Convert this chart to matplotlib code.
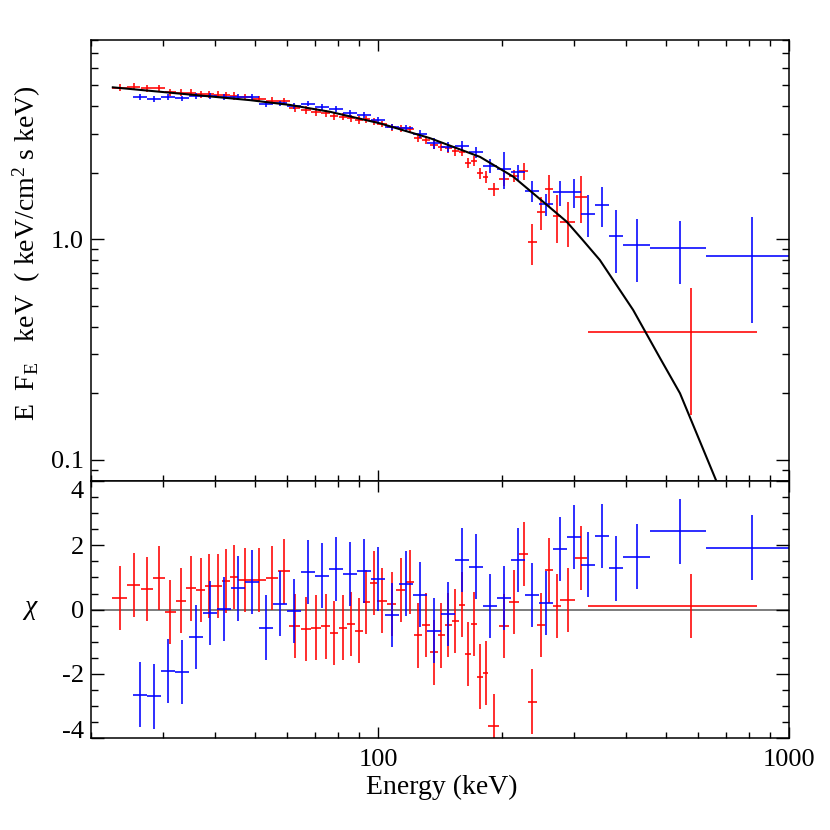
import numpy as np
import matplotlib
matplotlib.use('Agg')
import matplotlib.pyplot as plt
from matplotlib.ticker import LogLocator, NullFormatter, FixedLocator, FixedFormatter, MultipleLocator

plt.rcParams['font.family'] = ['Liberation Serif', 'DejaVu Serif']
plt.rcParams['mathtext.fontset'] = 'custom'
plt.rcParams['mathtext.rm'] = 'Liberation Serif'
plt.rcParams['mathtext.it'] = 'Liberation Serif:italic'

# ---------------- data ----------------
red_E = [23.5, 25.4, 27.4, 29.3, 31.2, 33.1, 35.0, 37.0, 38.8, 40.7, 42.7, 44.6,
         47.5, 51.3, 55.1, 59.0, 62.7, 66.7, 70.5, 74.5, 78.0, 82.1, 85.8, 89.7,
         93.5, 97.5, 102.1, 107.8, 113.4, 119.4, 125.1, 130.9, 136.6, 142.3, 148.0,
         153.9, 159.6, 165.2, 171.2, 176.8, 182.5, 190.9, 202.2, 213.9, 225.9, 237.0,
         248.4, 260.3, 271.8, 289.5, 311.3, 578.0]
red_hw = [0.96] * 12 + [1.9] * 14 + [2.7] + [2.85] * 14 + [5.5] + [5.75] * 7 + [12.0, 9.8, 255.0]
red_F = [4.86, 4.91, 4.83, 4.83, 4.63, 4.61, 4.61, 4.55, 4.54, 4.52,
         4.50, 4.46, 4.42, 4.32, 4.24, 4.23, 3.92, 3.85, 3.78, 3.72,
         3.63, 3.59, 3.53, 3.47, 3.49, 3.43, 3.33, 3.21, 3.18, 3.15,
         2.88, 2.81, 2.67, 2.62, 2.58, 2.51, 2.49, 2.22, 2.27, 1.99,
         1.91, 1.68, 1.87, 1.93, 2.04, 0.967, 1.33, 1.68, 1.27, 1.20,
         1.56, 0.38]
red_sig = [0.17] * 12 + [0.15] * 9 + [0.13] * 5 + [0.12] + [0.12] * 14 + \
          [0.11, 0.13, 0.12, 0.18, 0.20, 0.23, 0.28, 0.31, 0.28, 0.38, 0.22]
red_chi = [0.37, 0.77, 0.65, 0.99, -0.07, 0.28, 0.66, 0.62, 0.74, 0.74, 0.89, 1.02,
           0.92, 0.92, 0.98, 1.19, -0.50, -0.61, -0.56, -0.52, -0.73,
           -0.56, -0.44, -0.65, 0.24, 0.83, 0.28, 0.18, 0.61, 0.86, -0.80,
           -0.47, -1.33, -0.80, -0.48, -0.36, 0.16, -1.38, -0.44, -2.08, -1.96,
           -3.62, -0.50, 0.23, 1.74, -2.86, -0.47, 1.22, 0.12, 0.31, 1.61, 0.11]

blue_edges = [25.31, 27.37, 29.60, 32.01, 34.63, 37.45, 40.51, 43.81, 47.39, 51.25,
              55.43, 59.96, 64.85, 70.15, 75.86, 82.06, 88.75, 95.99, 103.8, 112.3,
              121.5, 131.4, 142.1, 153.7, 166.2, 179.8, 194.5, 210.3, 227.5, 246.0,
              266.1, 287.8, 311.3, 336.7, 364.1, 393.9, 458.3, 627.1, 1000.0]
blue_F = [4.41, 4.33, 4.41, 4.35, 4.46, 4.47, 4.42, 4.42, 4.40, 4.10,
          4.13, 4.03, 4.12, 3.96, 3.88, 3.74, 3.65, 3.47, 3.23, 3.18,
          3.00, 2.72, 2.62, 2.64, 2.48, 2.15, 2.08, 2.01, 1.66, 1.44,
          1.63, 1.63, 1.30, 1.43, 1.03, 0.94, 0.914, 0.838]
blue_sig = [0.13] * 9 + [0.12] * 5 + [0.12, 0.12, 0.12, 0.11, 0.11, 0.11, 0.13] + \
           [0.17, 0.14, 0.14, 0.15, 0.15, 0.40, 0.16, 0.18, 0.17, 0.21, 0.24,
            0.28, 0.29, 0.33, 0.30, 0.29, 0.42]
blue_chi = [-2.64, -2.70, -1.90, -1.94, -0.86, -0.11, 0.03, 0.66, 0.87, -0.56,
            0.19, -0.05, 1.18, 1.06, 1.26, 1.11, 1.21, 0.96, -0.16, 0.81,
            0.47, -0.65, -0.13, 1.54, 1.34, 0.12, 0.36, 1.55, 0.46, 0.21,
            1.89, 2.26, 1.40, 2.30, 1.28, 1.65, 2.43, 1.93]

model_E = [22.6, 32.9, 48.7, 61.0, 76.3, 101.0, 133.6, 176.8, 213.0, 238.4,
           287.3, 313.0, 346.0, 417.0, 484.6, 542.0, 659.6, 717.0]
model_F = [4.88, 4.57, 4.27, 4.06, 3.78, 3.35, 2.87, 2.36, 1.92, 1.61,
           1.20, 1.00, 0.804, 0.477, 0.289, 0.200, 0.0827, 0.0566]

x_major = [100, 1000]
x_major_labels = ['100', '1000']
y_major = [0.1, 1.0]
y_major_labels = ['0.1', '1.0']
chi_major = [-4, -2, 0, 2, 4]
chi_labels = ['-4', '-2', '0', '2', '4']

# ---------------- derived ----------------
be = np.array(blue_edges)
blue_E = (be[:-1] + be[1:]) / 2
blue_hw = (be[1:] - be[:-1]) / 2

W = 830.0
fig = plt.figure(figsize=(8.3, 8.3), dpi=100)
L, R = 91 / W, 789.3 / W
ax1 = fig.add_axes([L, 1 - 481 / W, R - L, (481 - 40) / W])
ax2 = fig.add_axes([L, 1 - 738.3 / W, R - L, (738.3 - 481) / W])

FS = 20
FST = 19
ELW = 1.15
ekw = dict(fmt='none', elinewidth=ELW, capsize=0)

# top panel
ax1.errorbar(red_E, red_F, xerr=red_hw, yerr=red_sig, ecolor='#ff0000', **ekw)
ax1.errorbar(blue_E, blue_F, xerr=blue_hw, yerr=blue_sig, ecolor='#0000ff', **ekw)
ax1.plot(model_E, model_F, color='black', lw=1.5)
ax1.set_xscale('log')
ax1.set_yscale('log')
ax1.set_xlim(20, 1000)
ax1.set_ylim(0.08, 8)

# bottom panel
ax2.axhline(0, color='0.4', lw=1.2, zorder=1)
ax2.errorbar(red_E, red_chi, xerr=red_hw, yerr=1.0, ecolor='#ff0000', **ekw)
ax2.errorbar(blue_E, blue_chi, xerr=blue_hw, yerr=1.0, ecolor='#0000ff', **ekw)
ax2.set_xscale('log')
ax2.set_xlim(20, 1000)
ax2.set_ylim(-4, 4)

for ax in (ax1, ax2):
    for s in ax.spines.values():
        s.set_linewidth(1.1)
    ax.xaxis.set_major_locator(FixedLocator(x_major))
    ax.xaxis.set_minor_locator(LogLocator(base=10, subs=np.arange(2, 10)))
    ax.xaxis.set_minor_formatter(NullFormatter())
    ax.tick_params(which='both', direction='in', top=True, right=True,
                   labelsize=FST, width=1.0)
    ax.tick_params(axis='x', which='major', length=8, pad=8)
    ax.tick_params(axis='x', which='minor', length=4)
    ax.tick_params(axis='y', which='major', length=9.5, pad=5)
    ax.tick_params(axis='y', which='minor', length=5)

ax1.xaxis.set_major_formatter(NullFormatter())
ax2.xaxis.set_major_formatter(FixedFormatter(x_major_labels))

ax1.yaxis.set_major_locator(FixedLocator(y_major))
ax1.yaxis.set_major_formatter(FixedFormatter(y_major_labels))
ax1.yaxis.set_minor_locator(LogLocator(base=10, subs=np.arange(2, 10)))
ax1.yaxis.set_minor_formatter(NullFormatter())

ax2.yaxis.set_major_locator(FixedLocator(chi_major))
ax2.yaxis.set_major_formatter(FixedFormatter(chi_labels))
ax2.yaxis.set_minor_locator(MultipleLocator(0.5))

fig.canvas.draw()
for lab in ax2.get_yticklabels():
    if lab.get_text() == '4':
        lab.set_va('top')
    elif lab.get_text() == '-4':
        lab.set_va('baseline')

fig.text(27 / W, 1 - 253 / W, r'E  F$_{\rm E}$   keV  ( keV/cm$^2$ s keV)',
         rotation=90, ha='center', va='center', fontsize=FS)
fig.text(30 / W, 1 - 607 / W, 'χ', style='italic', ha='center', va='center', fontsize=FS)
fig.text(442 / W, 1 - 787 / W, 'Energy (keV)', ha='center', va='center', fontsize=FS)

fig.savefig('out.png', dpi=100)
